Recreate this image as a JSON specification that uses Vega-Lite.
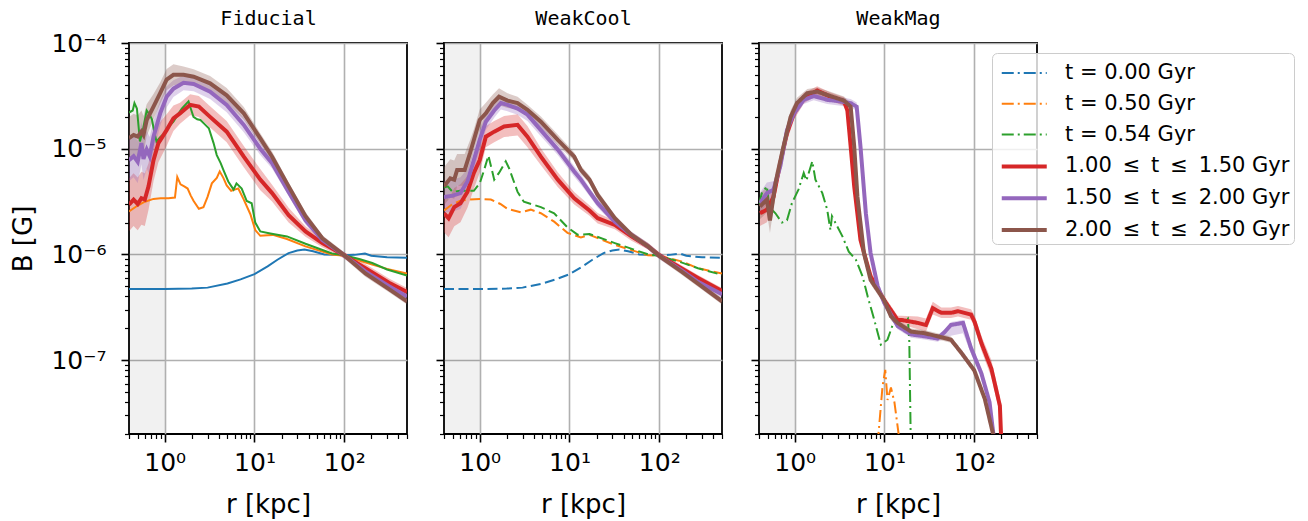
{
"$schema": "https://vega.github.io/schema/vega-lite/v6.json",
"background": "white",
"padding": {"left": 10, "top": 7, "right": 5, "bottom": 4},
"autosize": {"type": "pad"},
"config": {"view": {"stroke": "black", "strokeWidth": 1.8}, "font": "DejaVu Sans"},
"spacing": 37,
"bounds": "flush",
"resolve": {"legend": {"color": "independent", "strokeDash": "independent", "strokeWidth": "independent"}},
"datasets": {
"shade": [{"r0": 0.4, "r1": 1, "b0": 2e-8, "b1": 1e-4}],
"fid": [
{"s":"t = 0.00 Gyr","r":0.4,"B":4.7e-7},{"s":"t = 0.00 Gyr","r":1,"B":4.7e-7},{"s":"t = 0.00 Gyr","r":2,"B":4.75e-7},{"s":"t = 0.00 Gyr","r":3,"B":4.85e-7},{"s":"t = 0.00 Gyr","r":5,"B":5.3e-7},{"s":"t = 0.00 Gyr","r":7,"B":5.8e-7},{"s":"t = 0.00 Gyr","r":10,"B":6.5e-7},{"s":"t = 0.00 Gyr","r":14,"B":7.7e-7},{"s":"t = 0.00 Gyr","r":18,"B":8.9e-7},{"s":"t = 0.00 Gyr","r":24,"B":1.03e-6},{"s":"t = 0.00 Gyr","r":30,"B":1.09e-6},{"s":"t = 0.00 Gyr","r":36,"B":1.11e-6},{"s":"t = 0.00 Gyr","r":45,"B":1.07e-6},{"s":"t = 0.00 Gyr","r":60,"B":1.0e-6},{"s":"t = 0.00 Gyr","r":80,"B":9.9e-7},{"s":"t = 0.00 Gyr","r":100,"B":9.8e-7},{"s":"t = 0.00 Gyr","r":130,"B":9.9e-7},{"s":"t = 0.00 Gyr","r":170,"B":1.02e-6},{"s":"t = 0.00 Gyr","r":200,"B":9.7e-7},{"s":"t = 0.00 Gyr","r":300,"B":9.4e-7},{"s":"t = 0.00 Gyr","r":500,"B":9.3e-7},
{"s":"t = 0.50 Gyr","r":0.4,"B":2.55e-6},{"s":"t = 0.50 Gyr","r":0.5,"B":2.9e-6},{"s":"t = 0.50 Gyr","r":0.6,"B":3.15e-6},{"s":"t = 0.50 Gyr","r":0.75,"B":3.35e-6},{"s":"t = 0.50 Gyr","r":0.9,"B":3.4e-6},{"s":"t = 0.50 Gyr","r":1.1,"B":3.4e-6},{"s":"t = 0.50 Gyr","r":1.3,"B":3.45e-6},{"s":"t = 0.50 Gyr","r":1.38,"B":5.4e-6},{"s":"t = 0.50 Gyr","r":1.5,"B":4.6e-6},{"s":"t = 0.50 Gyr","r":1.65,"B":4.4e-6},{"s":"t = 0.50 Gyr","r":1.8,"B":4.2e-6},{"s":"t = 0.50 Gyr","r":1.95,"B":3.6e-6},{"s":"t = 0.50 Gyr","r":2.1,"B":3.2e-6},{"s":"t = 0.50 Gyr","r":2.4,"B":2.7e-6},{"s":"t = 0.50 Gyr","r":2.7,"B":2.8e-6},{"s":"t = 0.50 Gyr","r":3.0,"B":3.5e-6},{"s":"t = 0.50 Gyr","r":3.35,"B":4.7e-6},{"s":"t = 0.50 Gyr","r":3.8,"B":5.3e-6},{"s":"t = 0.50 Gyr","r":4.1,"B":6.1e-6},{"s":"t = 0.50 Gyr","r":4.5,"B":5.3e-6},{"s":"t = 0.50 Gyr","r":4.9,"B":4.5e-6},{"s":"t = 0.50 Gyr","r":5.5,"B":4.0e-6},{"s":"t = 0.50 Gyr","r":6.0,"B":4.1e-6},{"s":"t = 0.50 Gyr","r":6.6,"B":4.2e-6},{"s":"t = 0.50 Gyr","r":7.6,"B":3.3e-6},{"s":"t = 0.50 Gyr","r":9.0,"B":2.4e-6},{"s":"t = 0.50 Gyr","r":10.2,"B":1.7e-6},{"s":"t = 0.50 Gyr","r":11.6,"B":1.5e-6},{"s":"t = 0.50 Gyr","r":14,"B":1.52e-6},{"s":"t = 0.50 Gyr","r":16,"B":1.53e-6},{"s":"t = 0.50 Gyr","r":23,"B":1.4e-6},{"s":"t = 0.50 Gyr","r":37,"B":1.19e-6},{"s":"t = 0.50 Gyr","r":73,"B":1.0e-6},{"s":"t = 0.50 Gyr","r":100,"B":9.7e-7},{"s":"t = 0.50 Gyr","r":150,"B":8.7e-7},{"s":"t = 0.50 Gyr","r":205,"B":8.0e-7},{"s":"t = 0.50 Gyr","r":300,"B":7.3e-7},{"s":"t = 0.50 Gyr","r":500,"B":6.6e-7},
{"s":"t = 0.54 Gyr","r":0.4,"B":2.2e-5},{"s":"t = 0.54 Gyr","r":0.44,"B":2.3e-5},{"s":"t = 0.54 Gyr","r":0.46,"B":2.7e-5},{"s":"t = 0.54 Gyr","r":0.49,"B":2.4e-5},{"s":"t = 0.54 Gyr","r":0.53,"B":1.17e-5},{"s":"t = 0.54 Gyr","r":0.57,"B":1.5e-5},{"s":"t = 0.54 Gyr","r":0.63,"B":2.3e-5},{"s":"t = 0.54 Gyr","r":0.68,"B":2.1e-5},{"s":"t = 0.54 Gyr","r":0.72,"B":1.9e-5},{"s":"t = 0.54 Gyr","r":0.77,"B":1.4e-5},{"s":"t = 0.54 Gyr","r":0.81,"B":1.17e-5},{"s":"t = 0.54 Gyr","r":0.9,"B":1.3e-5},{"s":"t = 0.54 Gyr","r":1.0,"B":1.4e-5},{"s":"t = 0.54 Gyr","r":1.1,"B":1.6e-5},{"s":"t = 0.54 Gyr","r":1.25,"B":1.8e-5},{"s":"t = 0.54 Gyr","r":1.4,"B":2.1e-5},{"s":"t = 0.54 Gyr","r":1.55,"B":2.4e-5},{"s":"t = 0.54 Gyr","r":1.84,"B":2.8e-5},{"s":"t = 0.54 Gyr","r":1.95,"B":2.4e-5},{"s":"t = 0.54 Gyr","r":2.09,"B":2.0e-5},{"s":"t = 0.54 Gyr","r":2.3,"B":1.9e-5},{"s":"t = 0.54 Gyr","r":2.5,"B":1.87e-5},{"s":"t = 0.54 Gyr","r":2.8,"B":1.7e-5},{"s":"t = 0.54 Gyr","r":3.1,"B":1.56e-5},{"s":"t = 0.54 Gyr","r":3.5,"B":1.13e-5},{"s":"t = 0.54 Gyr","r":3.8,"B":8.7e-6},{"s":"t = 0.54 Gyr","r":4.2,"B":7.3e-6},{"s":"t = 0.54 Gyr","r":4.5,"B":6.3e-6},{"s":"t = 0.54 Gyr","r":5.1,"B":4.9e-6},{"s":"t = 0.54 Gyr","r":5.85,"B":4.1e-6},{"s":"t = 0.54 Gyr","r":6.3,"B":4.7e-6},{"s":"t = 0.54 Gyr","r":7.2,"B":4.2e-6},{"s":"t = 0.54 Gyr","r":8.2,"B":3.2e-6},{"s":"t = 0.54 Gyr","r":9.3,"B":3.05e-6},{"s":"t = 0.54 Gyr","r":10.2,"B":2.0e-6},{"s":"t = 0.54 Gyr","r":11.6,"B":1.65e-6},{"s":"t = 0.54 Gyr","r":15,"B":1.58e-6},{"s":"t = 0.54 Gyr","r":23,"B":1.48e-6},{"s":"t = 0.54 Gyr","r":37,"B":1.26e-6},{"s":"t = 0.54 Gyr","r":73,"B":1.02e-6},{"s":"t = 0.54 Gyr","r":100,"B":9.8e-7},{"s":"t = 0.54 Gyr","r":150,"B":9.0e-7},{"s":"t = 0.54 Gyr","r":205,"B":8.3e-7},{"s":"t = 0.54 Gyr","r":300,"B":7.2e-7},{"s":"t = 0.54 Gyr","r":500,"B":6.3e-7},
{"s":"1.00 ≤ t ≤ 1.50 Gyr","r":0.4,"B":2.95e-6,"lo":1.66e-6,"hi":5.24e-6},{"s":"1.00 ≤ t ≤ 1.50 Gyr","r":0.45,"B":3.3e-6,"lo":1.86e-6,"hi":5.87e-6},{"s":"1.00 ≤ t ≤ 1.50 Gyr","r":0.5,"B":3.0e-6,"lo":1.69e-6,"hi":5.33e-6},{"s":"1.00 ≤ t ≤ 1.50 Gyr","r":0.55,"B":3.4e-6,"lo":1.91e-6,"hi":6.05e-6},{"s":"1.00 ≤ t ≤ 1.50 Gyr","r":0.6,"B":3.3e-6,"lo":1.86e-6,"hi":5.87e-6},{"s":"1.00 ≤ t ≤ 1.50 Gyr","r":0.66,"B":4.4e-6,"lo":2.65e-6,"hi":7.3e-6},{"s":"1.00 ≤ t ≤ 1.50 Gyr","r":0.75,"B":7.8e-6,"lo":4.92e-6,"hi":1.24e-5},{"s":"1.00 ≤ t ≤ 1.50 Gyr","r":0.85,"B":1.13e-5,"lo":7.46e-6,"hi":1.71e-5},{"s":"1.00 ≤ t ≤ 1.50 Gyr","r":1.05,"B":1.5e-5,"lo":1.06e-5,"hi":2.12e-5},{"s":"1.00 ≤ t ≤ 1.50 Gyr","r":1.25,"B":1.94e-5,"lo":1.47e-5,"hi":2.56e-5},{"s":"1.00 ≤ t ≤ 1.50 Gyr","r":1.48,"B":2.16e-5,"lo":1.72e-5,"hi":2.72e-5},{"s":"1.00 ≤ t ≤ 1.50 Gyr","r":1.92,"B":2.6e-5,"lo":2.07e-5,"hi":3.27e-5},{"s":"1.00 ≤ t ≤ 1.50 Gyr","r":2.4,"B":2.5e-5,"lo":1.99e-5,"hi":3.15e-5},{"s":"1.00 ≤ t ≤ 1.50 Gyr","r":3.2,"B":2.0e-5,"lo":1.59e-5,"hi":2.52e-5},{"s":"1.00 ≤ t ≤ 1.50 Gyr","r":4.9,"B":1.45e-5,"lo":1.15e-5,"hi":1.83e-5},{"s":"1.00 ≤ t ≤ 1.50 Gyr","r":7.6,"B":8.4e-6,"lo":6.67e-6,"hi":1.06e-5},{"s":"1.00 ≤ t ≤ 1.50 Gyr","r":11.6,"B":5.1e-6,"lo":4.05e-6,"hi":6.42e-6},{"s":"1.00 ≤ t ≤ 1.50 Gyr","r":15.7,"B":3.8e-6,"lo":3.16e-6,"hi":4.57e-6},{"s":"1.00 ≤ t ≤ 1.50 Gyr","r":24,"B":2.35e-6,"lo":2.0e-6,"hi":2.76e-6},{"s":"1.00 ≤ t ≤ 1.50 Gyr","r":37,"B":1.65e-6,"lo":1.47e-6,"hi":1.85e-6},{"s":"1.00 ≤ t ≤ 1.50 Gyr","r":57,"B":1.28e-6,"lo":1.17e-6,"hi":1.4e-6},{"s":"1.00 ≤ t ≤ 1.50 Gyr","r":100,"B":9.8e-7,"lo":9.15e-7,"hi":1.05e-6},{"s":"1.00 ≤ t ≤ 1.50 Gyr","r":172,"B":7.4e-7,"lo":6.75e-7,"hi":8.1e-7},{"s":"1.00 ≤ t ≤ 1.50 Gyr","r":315,"B":5.4e-7,"lo":4.93e-7,"hi":5.92e-7},{"s":"1.00 ≤ t ≤ 1.50 Gyr","r":500,"B":4.4e-7,"lo":4.0e-7,"hi":4.8e-7},
{"s":"1.50 ≤ t ≤ 2.00 Gyr","r":0.4,"B":7.8e-6,"lo":4.92e-6,"hi":1.24e-5},{"s":"1.50 ≤ t ≤ 2.00 Gyr","r":0.45,"B":8.5e-6,"lo":5.36e-6,"hi":1.35e-5},{"s":"1.50 ≤ t ≤ 2.00 Gyr","r":0.5,"B":7.5e-6,"lo":4.73e-6,"hi":1.19e-5},{"s":"1.50 ≤ t ≤ 2.00 Gyr","r":0.55,"B":1.13e-5,"lo":7.13e-6,"hi":1.79e-5},{"s":"1.50 ≤ t ≤ 2.00 Gyr","r":0.58,"B":8.0e-6,"lo":5.05e-6,"hi":1.27e-5},{"s":"1.50 ≤ t ≤ 2.00 Gyr","r":0.63,"B":9.8e-6,"lo":6.47e-6,"hi":1.48e-5},{"s":"1.50 ≤ t ≤ 2.00 Gyr","r":0.68,"B":8.5e-6,"lo":5.61e-6,"hi":1.29e-5},{"s":"1.50 ≤ t ≤ 2.00 Gyr","r":0.75,"B":1.3e-5,"lo":9.2e-6,"hi":1.84e-5},{"s":"1.50 ≤ t ≤ 2.00 Gyr","r":0.89,"B":2.16e-5,"lo":1.64e-5,"hi":2.85e-5},{"s":"1.50 ≤ t ≤ 2.00 Gyr","r":1.05,"B":3.1e-5,"lo":2.46e-5,"hi":3.9e-5},{"s":"1.50 ≤ t ≤ 2.00 Gyr","r":1.25,"B":3.7e-5,"lo":3.08e-5,"hi":4.45e-5},{"s":"1.50 ≤ t ≤ 2.00 Gyr","r":1.62,"B":4.2e-5,"lo":3.57e-5,"hi":4.94e-5},{"s":"1.50 ≤ t ≤ 2.00 Gyr","r":2.1,"B":4.1e-5,"lo":3.49e-5,"hi":4.82e-5},{"s":"1.50 ≤ t ≤ 2.00 Gyr","r":3.2,"B":3.47e-5,"lo":2.95e-5,"hi":4.08e-5},{"s":"1.50 ≤ t ≤ 2.00 Gyr","r":4.9,"B":2.6e-5,"lo":2.21e-5,"hi":3.06e-5},{"s":"1.50 ≤ t ≤ 2.00 Gyr","r":7.6,"B":1.68e-5,"lo":1.43e-5,"hi":1.97e-5},{"s":"1.50 ≤ t ≤ 2.00 Gyr","r":11.6,"B":1.0e-5,"lo":8.7e-6,"hi":1.15e-5},{"s":"1.50 ≤ t ≤ 2.00 Gyr","r":15.7,"B":7.3e-6,"lo":6.5e-6,"hi":8.2e-6},{"s":"1.50 ≤ t ≤ 2.00 Gyr","r":24,"B":3.9e-6,"lo":3.56e-6,"hi":4.27e-6},{"s":"1.50 ≤ t ≤ 2.00 Gyr","r":37,"B":2.1e-6,"lo":1.92e-6,"hi":2.3e-6},{"s":"1.50 ≤ t ≤ 2.00 Gyr","r":57,"B":1.37e-6,"lo":1.28e-6,"hi":1.47e-6},{"s":"1.50 ≤ t ≤ 2.00 Gyr","r":100,"B":9.8e-7,"lo":9.15e-7,"hi":1.05e-6},{"s":"1.50 ≤ t ≤ 2.00 Gyr","r":172,"B":6.9e-7,"lo":6.44e-7,"hi":7.39e-7},{"s":"1.50 ≤ t ≤ 2.00 Gyr","r":315,"B":5.0e-7,"lo":4.67e-7,"hi":5.36e-7},{"s":"1.50 ≤ t ≤ 2.00 Gyr","r":500,"B":4.0e-7,"lo":3.73e-7,"hi":4.29e-7},
{"s":"2.00 ≤ t ≤ 2.50 Gyr","r":0.4,"B":1.26e-5,"lo":7.95e-6,"hi":2.0e-5},{"s":"2.00 ≤ t ≤ 2.50 Gyr","r":0.45,"B":1.35e-5,"lo":8.52e-6,"hi":2.14e-5},{"s":"2.00 ≤ t ≤ 2.50 Gyr","r":0.5,"B":1.3e-5,"lo":8.2e-6,"hi":2.06e-5},{"s":"2.00 ≤ t ≤ 2.50 Gyr","r":0.55,"B":1.45e-5,"lo":9.15e-6,"hi":2.3e-5},{"s":"2.00 ≤ t ≤ 2.50 Gyr","r":0.58,"B":1.35e-5,"lo":8.92e-6,"hi":2.04e-5},{"s":"2.00 ≤ t ≤ 2.50 Gyr","r":0.63,"B":1.87e-5,"lo":1.32e-5,"hi":2.64e-5},{"s":"2.00 ≤ t ≤ 2.50 Gyr","r":0.75,"B":2.5e-5,"lo":1.9e-5,"hi":3.3e-5},{"s":"2.00 ≤ t ≤ 2.50 Gyr","r":0.89,"B":3.35e-5,"lo":2.66e-5,"hi":4.22e-5},{"s":"2.00 ≤ t ≤ 2.50 Gyr","r":1.05,"B":4.5e-5,"lo":3.57e-5,"hi":5.67e-5},{"s":"2.00 ≤ t ≤ 2.50 Gyr","r":1.25,"B":5.0e-5,"lo":3.97e-5,"hi":6.3e-5},{"s":"2.00 ≤ t ≤ 2.50 Gyr","r":1.62,"B":5.0e-5,"lo":4.16e-5,"hi":6.0e-5},{"s":"2.00 ≤ t ≤ 2.50 Gyr","r":2.1,"B":4.8e-5,"lo":4.08e-5,"hi":5.64e-5},{"s":"2.00 ≤ t ≤ 2.50 Gyr","r":3.2,"B":4.15e-5,"lo":3.53e-5,"hi":4.88e-5},{"s":"2.00 ≤ t ≤ 2.50 Gyr","r":4.9,"B":3.2e-5,"lo":2.72e-5,"hi":3.76e-5},{"s":"2.00 ≤ t ≤ 2.50 Gyr","r":7.6,"B":2.16e-5,"lo":1.88e-5,"hi":2.48e-5},{"s":"2.00 ≤ t ≤ 2.50 Gyr","r":11.6,"B":1.25e-5,"lo":1.11e-5,"hi":1.4e-5},{"s":"2.00 ≤ t ≤ 2.50 Gyr","r":15.7,"B":8.4e-6,"lo":7.5e-6,"hi":9.4e-6},{"s":"2.00 ≤ t ≤ 2.50 Gyr","r":24,"B":4.4e-6,"lo":4.0e-6,"hi":4.8e-6},{"s":"2.00 ≤ t ≤ 2.50 Gyr","r":37,"B":2.3e-6,"lo":2.1e-6,"hi":2.52e-6},{"s":"2.00 ≤ t ≤ 2.50 Gyr","r":57,"B":1.42e-6,"lo":1.33e-6,"hi":1.52e-6},{"s":"2.00 ≤ t ≤ 2.50 Gyr","r":100,"B":9.8e-7,"lo":9.15e-7,"hi":1.05e-6},{"s":"2.00 ≤ t ≤ 2.50 Gyr","r":172,"B":6.6e-7,"lo":6.16e-7,"hi":7.07e-7},{"s":"2.00 ≤ t ≤ 2.50 Gyr","r":315,"B":4.7e-7,"lo":4.39e-7,"hi":5.04e-7},{"s":"2.00 ≤ t ≤ 2.50 Gyr","r":500,"B":3.6e-7,"lo":3.36e-7,"hi":3.86e-7}
],
"wc": [
{"s":"t = 0.00 Gyr","r":0.4,"B":4.7e-7},{"s":"t = 0.00 Gyr","r":1,"B":4.7e-7},{"s":"t = 0.00 Gyr","r":2,"B":4.75e-7},{"s":"t = 0.00 Gyr","r":3,"B":4.85e-7},{"s":"t = 0.00 Gyr","r":5,"B":5.3e-7},{"s":"t = 0.00 Gyr","r":7,"B":5.8e-7},{"s":"t = 0.00 Gyr","r":10,"B":6.5e-7},{"s":"t = 0.00 Gyr","r":14,"B":7.7e-7},{"s":"t = 0.00 Gyr","r":18,"B":8.9e-7},{"s":"t = 0.00 Gyr","r":24,"B":1.03e-6},{"s":"t = 0.00 Gyr","r":30,"B":1.09e-6},{"s":"t = 0.00 Gyr","r":36,"B":1.11e-6},{"s":"t = 0.00 Gyr","r":45,"B":1.07e-6},{"s":"t = 0.00 Gyr","r":60,"B":1.0e-6},{"s":"t = 0.00 Gyr","r":80,"B":9.9e-7},{"s":"t = 0.00 Gyr","r":100,"B":9.8e-7},{"s":"t = 0.00 Gyr","r":130,"B":9.9e-7},{"s":"t = 0.00 Gyr","r":170,"B":1.02e-6},{"s":"t = 0.00 Gyr","r":200,"B":9.7e-7},{"s":"t = 0.00 Gyr","r":300,"B":9.4e-7},{"s":"t = 0.00 Gyr","r":500,"B":9.3e-7},
{"s":"t = 0.50 Gyr","r":0.4,"B":2.6e-6},{"s":"t = 0.50 Gyr","r":0.5,"B":3.0e-6},{"s":"t = 0.50 Gyr","r":0.6,"B":3.2e-6},{"s":"t = 0.50 Gyr","r":0.75,"B":3.3e-6},{"s":"t = 0.50 Gyr","r":1.0,"B":3.35e-6},{"s":"t = 0.50 Gyr","r":1.33,"B":3.3e-6},{"s":"t = 0.50 Gyr","r":1.7,"B":3.0e-6},{"s":"t = 0.50 Gyr","r":2.04,"B":2.7e-6},{"s":"t = 0.50 Gyr","r":2.87,"B":2.5e-6},{"s":"t = 0.50 Gyr","r":3.7,"B":2.65e-6},{"s":"t = 0.50 Gyr","r":4.8,"B":2.45e-6},{"s":"t = 0.50 Gyr","r":6.75,"B":2.04e-6},{"s":"t = 0.50 Gyr","r":9.5,"B":1.6e-6},{"s":"t = 0.50 Gyr","r":13.4,"B":1.45e-6},{"s":"t = 0.50 Gyr","r":16.7,"B":1.53e-6},{"s":"t = 0.50 Gyr","r":32,"B":1.23e-6},{"s":"t = 0.50 Gyr","r":75,"B":9.8e-7},{"s":"t = 0.50 Gyr","r":100,"B":9.7e-7},{"s":"t = 0.50 Gyr","r":176,"B":8.6e-7},{"s":"t = 0.50 Gyr","r":270,"B":7.4e-7},{"s":"t = 0.50 Gyr","r":500,"B":6.6e-7},
{"s":"t = 0.54 Gyr","r":0.4,"B":4.3e-6},{"s":"t = 0.54 Gyr","r":0.44,"B":4.4e-6},{"s":"t = 0.54 Gyr","r":0.5,"B":3.9e-6},{"s":"t = 0.54 Gyr","r":0.6,"B":4.0e-6},{"s":"t = 0.54 Gyr","r":0.73,"B":4.0e-6},{"s":"t = 0.54 Gyr","r":0.86,"B":4.0e-6},{"s":"t = 0.54 Gyr","r":1.0,"B":4.7e-6},{"s":"t = 0.54 Gyr","r":1.12,"B":6.3e-6},{"s":"t = 0.54 Gyr","r":1.25,"B":8.6e-6},{"s":"t = 0.54 Gyr","r":1.45,"B":5.1e-6},{"s":"t = 0.54 Gyr","r":1.64,"B":5.9e-6},{"s":"t = 0.54 Gyr","r":1.95,"B":7.6e-6},{"s":"t = 0.54 Gyr","r":2.13,"B":6.5e-6},{"s":"t = 0.54 Gyr","r":2.64,"B":3.9e-6},{"s":"t = 0.54 Gyr","r":3.1,"B":3.15e-6},{"s":"t = 0.54 Gyr","r":4.8,"B":2.8e-6},{"s":"t = 0.54 Gyr","r":6.75,"B":2.45e-6},{"s":"t = 0.54 Gyr","r":9.5,"B":1.8e-6},{"s":"t = 0.54 Gyr","r":12.4,"B":1.53e-6},{"s":"t = 0.54 Gyr","r":16.7,"B":1.56e-6},{"s":"t = 0.54 Gyr","r":32,"B":1.28e-6},{"s":"t = 0.54 Gyr","r":75,"B":1.0e-6},{"s":"t = 0.54 Gyr","r":100,"B":9.7e-7},{"s":"t = 0.54 Gyr","r":176,"B":8.4e-7},{"s":"t = 0.54 Gyr","r":270,"B":7.4e-7},{"s":"t = 0.54 Gyr","r":500,"B":6.4e-7},
{"s":"1.00 ≤ t ≤ 1.50 Gyr","r":0.4,"B":2.45e-6,"lo":1.62e-6,"hi":3.71e-6},{"s":"1.00 ≤ t ≤ 1.50 Gyr","r":0.45,"B":2.2e-6,"lo":1.45e-6,"hi":3.33e-6},{"s":"1.00 ≤ t ≤ 1.50 Gyr","r":0.52,"B":2.8e-6,"lo":1.85e-6,"hi":4.24e-6},{"s":"1.00 ≤ t ≤ 1.50 Gyr","r":0.61,"B":3.05e-6,"lo":2.01e-6,"hi":4.62e-6},{"s":"1.00 ≤ t ≤ 1.50 Gyr","r":0.73,"B":3.9e-6,"lo":2.76e-6,"hi":5.51e-6},{"s":"1.00 ≤ t ≤ 1.50 Gyr","r":0.86,"B":5.9e-6,"lo":4.18e-6,"hi":8.34e-6},{"s":"1.00 ≤ t ≤ 1.50 Gyr","r":1.0,"B":7.8e-6,"lo":5.92e-6,"hi":1.03e-5},{"s":"1.00 ≤ t ≤ 1.50 Gyr","r":1.17,"B":1.3e-5,"lo":1.03e-5,"hi":1.64e-5},{"s":"1.00 ≤ t ≤ 1.50 Gyr","r":1.45,"B":1.45e-5,"lo":1.15e-5,"hi":1.83e-5},{"s":"1.00 ≤ t ≤ 1.50 Gyr","r":1.87,"B":1.62e-5,"lo":1.29e-5,"hi":2.04e-5},{"s":"1.00 ≤ t ≤ 1.50 Gyr","r":2.64,"B":1.68e-5,"lo":1.33e-5,"hi":2.12e-5},{"s":"1.00 ≤ t ≤ 1.50 Gyr","r":3.4,"B":1.3e-5,"lo":1.03e-5,"hi":1.64e-5},{"s":"1.00 ≤ t ≤ 1.50 Gyr","r":4.8,"B":8.4e-6,"lo":6.99e-6,"hi":1.01e-5},{"s":"1.00 ≤ t ≤ 1.50 Gyr","r":7.4,"B":5.1e-6,"lo":4.34e-6,"hi":5.99e-6},{"s":"1.00 ≤ t ≤ 1.50 Gyr","r":11.3,"B":3.4e-6,"lo":2.96e-6,"hi":3.9e-6},{"s":"1.00 ≤ t ≤ 1.50 Gyr","r":16.7,"B":2.6e-6,"lo":2.32e-6,"hi":2.92e-6},{"s":"1.00 ≤ t ≤ 1.50 Gyr","r":20.6,"B":2.2e-6,"lo":1.96e-6,"hi":2.47e-6},{"s":"1.00 ≤ t ≤ 1.50 Gyr","r":32,"B":1.9e-6,"lo":1.73e-6,"hi":2.08e-6},{"s":"1.00 ≤ t ≤ 1.50 Gyr","r":49,"B":1.48e-6,"lo":1.35e-6,"hi":1.62e-6},{"s":"1.00 ≤ t ≤ 1.50 Gyr","r":75,"B":1.19e-6,"lo":1.11e-6,"hi":1.28e-6},{"s":"1.00 ≤ t ≤ 1.50 Gyr","r":100,"B":9.8e-7,"lo":9.15e-7,"hi":1.05e-6},{"s":"1.00 ≤ t ≤ 1.50 Gyr","r":176,"B":7.4e-7,"lo":6.9e-7,"hi":7.9e-7},{"s":"1.00 ≤ t ≤ 1.50 Gyr","r":270,"B":6.0e-7,"lo":5.6e-7,"hi":6.4e-7},{"s":"1.00 ≤ t ≤ 1.50 Gyr","r":500,"B":4.5e-7,"lo":4.2e-7,"hi":4.8e-7},
{"s":"1.50 ≤ t ≤ 2.00 Gyr","r":0.4,"B":3.5e-6,"lo":2.48e-6,"hi":4.95e-6},{"s":"1.50 ≤ t ≤ 2.00 Gyr","r":0.5,"B":3.6e-6,"lo":2.55e-6,"hi":5.09e-6},{"s":"1.50 ≤ t ≤ 2.00 Gyr","r":0.61,"B":3.8e-6,"lo":2.69e-6,"hi":5.37e-6},{"s":"1.50 ≤ t ≤ 2.00 Gyr","r":0.73,"B":4.9e-6,"lo":3.72e-6,"hi":6.46e-6},{"s":"1.50 ≤ t ≤ 2.00 Gyr","r":0.86,"B":7.8e-6,"lo":6.2e-6,"hi":9.8e-6},{"s":"1.50 ≤ t ≤ 2.00 Gyr","r":1.0,"B":1.21e-5,"lo":9.6e-6,"hi":1.52e-5},{"s":"1.50 ≤ t ≤ 2.00 Gyr","r":1.17,"B":1.8e-5,"lo":1.5e-5,"hi":2.16e-5},{"s":"1.50 ≤ t ≤ 2.00 Gyr","r":1.45,"B":2.3e-5,"lo":1.96e-5,"hi":2.7e-5},{"s":"1.50 ≤ t ≤ 2.00 Gyr","r":1.72,"B":2.7e-5,"lo":2.35e-5,"hi":3.1e-5},{"s":"1.50 ≤ t ≤ 2.00 Gyr","r":2.04,"B":2.6e-5,"lo":2.26e-5,"hi":2.98e-5},{"s":"1.50 ≤ t ≤ 2.00 Gyr","r":2.64,"B":2.4e-5,"lo":2.09e-5,"hi":2.76e-5},{"s":"1.50 ≤ t ≤ 2.00 Gyr","r":3.4,"B":2.1e-5,"lo":1.83e-5,"hi":2.41e-5},{"s":"1.50 ≤ t ≤ 2.00 Gyr","r":4.8,"B":1.5e-5,"lo":1.31e-5,"hi":1.72e-5},{"s":"1.50 ≤ t ≤ 2.00 Gyr","r":7.4,"B":9.8e-6,"lo":8.73e-6,"hi":1.1e-5},{"s":"1.50 ≤ t ≤ 2.00 Gyr","r":11.3,"B":6.1e-6,"lo":5.44e-6,"hi":6.84e-6},{"s":"1.50 ≤ t ≤ 2.00 Gyr","r":13.4,"B":5.1e-6,"lo":4.55e-6,"hi":5.72e-6},{"s":"1.50 ≤ t ≤ 2.00 Gyr","r":16.7,"B":3.9e-6,"lo":3.56e-6,"hi":4.27e-6},{"s":"1.50 ≤ t ≤ 2.00 Gyr","r":20.6,"B":3.05e-6,"lo":2.78e-6,"hi":3.34e-6},{"s":"1.50 ≤ t ≤ 2.00 Gyr","r":32,"B":2.04e-6,"lo":1.9e-6,"hi":2.19e-6},{"s":"1.50 ≤ t ≤ 2.00 Gyr","r":49,"B":1.53e-6,"lo":1.43e-6,"hi":1.64e-6},{"s":"1.50 ≤ t ≤ 2.00 Gyr","r":75,"B":1.19e-6,"lo":1.11e-6,"hi":1.28e-6},{"s":"1.50 ≤ t ≤ 2.00 Gyr","r":100,"B":9.7e-7,"lo":9.05e-7,"hi":1.04e-6},{"s":"1.50 ≤ t ≤ 2.00 Gyr","r":176,"B":7.1e-7,"lo":6.63e-7,"hi":7.61e-7},{"s":"1.50 ≤ t ≤ 2.00 Gyr","r":270,"B":5.5e-7,"lo":5.13e-7,"hi":5.89e-7},{"s":"1.50 ≤ t ≤ 2.00 Gyr","r":500,"B":4.2e-7,"lo":3.92e-7,"hi":4.5e-7},
{"s":"2.00 ≤ t ≤ 2.50 Gyr","r":0.4,"B":4.4e-6,"lo":2.91e-6,"hi":6.66e-6},{"s":"2.00 ≤ t ≤ 2.50 Gyr","r":0.47,"B":5.25e-6,"lo":3.47e-6,"hi":7.95e-6},{"s":"2.00 ≤ t ≤ 2.50 Gyr","r":0.52,"B":5.1e-6,"lo":3.37e-6,"hi":7.72e-6},{"s":"2.00 ≤ t ≤ 2.50 Gyr","r":0.56,"B":6.3e-6,"lo":4.46e-6,"hi":8.9e-6},{"s":"2.00 ≤ t ≤ 2.50 Gyr","r":0.68,"B":6.3e-6,"lo":4.46e-6,"hi":8.9e-6},{"s":"2.00 ≤ t ≤ 2.50 Gyr","r":0.78,"B":9.1e-6,"lo":6.9e-6,"hi":1.2e-5},{"s":"2.00 ≤ t ≤ 2.50 Gyr","r":0.86,"B":1.21e-5,"lo":9.6e-6,"hi":1.52e-5},{"s":"2.00 ≤ t ≤ 2.50 Gyr","r":1.0,"B":1.87e-5,"lo":1.49e-5,"hi":2.35e-5},{"s":"2.00 ≤ t ≤ 2.50 Gyr","r":1.17,"B":2.16e-5,"lo":1.72e-5,"hi":2.72e-5},{"s":"2.00 ≤ t ≤ 2.50 Gyr","r":1.4,"B":2.7e-5,"lo":2.25e-5,"hi":3.25e-5},{"s":"2.00 ≤ t ≤ 2.50 Gyr","r":1.64,"B":3.1e-5,"lo":2.58e-5,"hi":3.73e-5},{"s":"2.00 ≤ t ≤ 2.50 Gyr","r":2.04,"B":2.85e-5,"lo":2.43e-5,"hi":3.35e-5},{"s":"2.00 ≤ t ≤ 2.50 Gyr","r":2.64,"B":2.7e-5,"lo":2.35e-5,"hi":3.1e-5},{"s":"2.00 ≤ t ≤ 2.50 Gyr","r":3.4,"B":2.33e-5,"lo":2.08e-5,"hi":2.61e-5},{"s":"2.00 ≤ t ≤ 2.50 Gyr","r":4.8,"B":1.8e-5,"lo":1.6e-5,"hi":2.02e-5},{"s":"2.00 ≤ t ≤ 2.50 Gyr","r":7.4,"B":1.21e-5,"lo":1.08e-5,"hi":1.36e-5},{"s":"2.00 ≤ t ≤ 2.50 Gyr","r":11.3,"B":8.4e-6,"lo":7.66e-6,"hi":9.2e-6},{"s":"2.00 ≤ t ≤ 2.50 Gyr","r":13.4,"B":6.3e-6,"lo":5.75e-6,"hi":6.9e-6},{"s":"2.00 ≤ t ≤ 2.50 Gyr","r":16.7,"B":5.1e-6,"lo":4.65e-6,"hi":5.59e-6},{"s":"2.00 ≤ t ≤ 2.50 Gyr","r":20.6,"B":3.65e-6,"lo":3.33e-6,"hi":4.0e-6},{"s":"2.00 ≤ t ≤ 2.50 Gyr","r":32,"B":2.2e-6,"lo":2.05e-6,"hi":2.36e-6},{"s":"2.00 ≤ t ≤ 2.50 Gyr","r":49,"B":1.53e-6,"lo":1.43e-6,"hi":1.64e-6},{"s":"2.00 ≤ t ≤ 2.50 Gyr","r":75,"B":1.19e-6,"lo":1.11e-6,"hi":1.28e-6},{"s":"2.00 ≤ t ≤ 2.50 Gyr","r":100,"B":9.7e-7,"lo":9.05e-7,"hi":1.04e-6},{"s":"2.00 ≤ t ≤ 2.50 Gyr","r":176,"B":6.9e-7,"lo":6.44e-7,"hi":7.39e-7},{"s":"2.00 ≤ t ≤ 2.50 Gyr","r":270,"B":5.3e-7,"lo":4.95e-7,"hi":5.68e-7},{"s":"2.00 ≤ t ≤ 2.50 Gyr","r":500,"B":3.6e-7,"lo":3.36e-7,"hi":3.86e-7}
],
"wm": [
{"s":"t = 0.50 Gyr","r":8.0,"B":1e-8},{"s":"t = 0.50 Gyr","r":9.5,"B":5.6e-8},{"s":"t = 0.50 Gyr","r":10.2,"B":8.1e-8},{"s":"t = 0.50 Gyr","r":10.8,"B":4.2e-8},{"s":"t = 0.50 Gyr","r":11.8,"B":5.5e-8},{"s":"t = 0.50 Gyr","r":12.9,"B":4.0e-8},{"s":"t = 0.50 Gyr","r":16,"B":1e-8},
{"s":"t = 0.54 Gyr","r":0.4,"B":3.0e-6},{"s":"t = 0.54 Gyr","r":0.43,"B":3.8e-6},{"s":"t = 0.54 Gyr","r":0.49,"B":4.4e-6},{"s":"t = 0.54 Gyr","r":0.52,"B":2.8e-6},{"s":"t = 0.54 Gyr","r":0.61,"B":2.45e-6},{"s":"t = 0.54 Gyr","r":0.72,"B":2.0e-6},{"s":"t = 0.54 Gyr","r":0.82,"B":2.1e-6},{"s":"t = 0.54 Gyr","r":0.93,"B":3.05e-6},{"s":"t = 0.54 Gyr","r":1.1,"B":4.1e-6},{"s":"t = 0.54 Gyr","r":1.26,"B":5.9e-6},{"s":"t = 0.54 Gyr","r":1.35,"B":5.0e-6},{"s":"t = 0.54 Gyr","r":1.57,"B":7.6e-6},{"s":"t = 0.54 Gyr","r":1.7,"B":5.1e-6},{"s":"t = 0.54 Gyr","r":2.03,"B":3.8e-6},{"s":"t = 0.54 Gyr","r":2.3,"B":2.65e-6},{"s":"t = 0.54 Gyr","r":2.5,"B":1.7e-6},{"s":"t = 0.54 Gyr","r":2.6,"B":2.3e-6},{"s":"t = 0.54 Gyr","r":3.4,"B":1.48e-6},{"s":"t = 0.54 Gyr","r":4.0,"B":1.06e-6},{"s":"t = 0.54 Gyr","r":4.8,"B":8.9e-7},{"s":"t = 0.54 Gyr","r":5.7,"B":6.2e-7},{"s":"t = 0.54 Gyr","r":6.5,"B":4.0e-7},{"s":"t = 0.54 Gyr","r":7.7,"B":2.4e-7},{"s":"t = 0.54 Gyr","r":9.1,"B":1.4e-7},{"s":"t = 0.54 Gyr","r":10.8,"B":1.56e-7},{"s":"t = 0.54 Gyr","r":12.9,"B":2.4e-7},{"s":"t = 0.54 Gyr","r":15.9,"B":2.4e-7},{"s":"t = 0.54 Gyr","r":18.2,"B":2.5e-7},{"s":"t = 0.54 Gyr","r":18.9,"B":1.5e-7},{"s":"t = 0.54 Gyr","r":19.8,"B":1e-8},
{"s":"1.00 ≤ t ≤ 1.50 Gyr","r":0.41,"B":2.45e-6,"lo":1.86e-6,"hi":3.23e-6},{"s":"1.00 ≤ t ≤ 1.50 Gyr","r":0.49,"B":2.65e-6,"lo":2.01e-6,"hi":3.49e-6},{"s":"1.00 ≤ t ≤ 1.50 Gyr","r":0.58,"B":3.5e-6,"lo":2.78e-6,"hi":4.41e-6},{"s":"1.00 ≤ t ≤ 1.50 Gyr","r":0.69,"B":7.3e-6,"lo":6.07e-6,"hi":8.77e-6},{"s":"1.00 ≤ t ≤ 1.50 Gyr","r":0.82,"B":1.4e-5,"lo":1.19e-5,"hi":1.65e-5},{"s":"1.00 ≤ t ≤ 1.50 Gyr","r":0.98,"B":2.16e-5,"lo":1.88e-5,"hi":2.48e-5},{"s":"1.00 ≤ t ≤ 1.50 Gyr","r":1.26,"B":3.0e-5,"lo":2.67e-5,"hi":3.37e-5},{"s":"1.00 ≤ t ≤ 1.50 Gyr","r":1.78,"B":3.55e-5,"lo":3.24e-5,"hi":3.89e-5},{"s":"1.00 ≤ t ≤ 1.50 Gyr","r":2.5,"B":3.1e-5,"lo":2.83e-5,"hi":3.4e-5},{"s":"1.00 ≤ t ≤ 1.50 Gyr","r":3.54,"B":2.8e-5,"lo":2.55e-5,"hi":3.07e-5},{"s":"1.00 ≤ t ≤ 1.50 Gyr","r":3.86,"B":2.3e-5,"lo":2.05e-5,"hi":2.58e-5},{"s":"1.00 ≤ t ≤ 1.50 Gyr","r":4.2,"B":1.05e-5,"lo":9.36e-6,"hi":1.18e-5},{"s":"1.00 ≤ t ≤ 1.50 Gyr","r":4.6,"B":4.4e-6,"lo":3.92e-6,"hi":4.94e-6},{"s":"1.00 ≤ t ≤ 1.50 Gyr","r":5.4,"B":1.37e-6,"lo":1.22e-6,"hi":1.54e-6},{"s":"1.00 ≤ t ≤ 1.50 Gyr","r":7.0,"B":6.2e-7,"lo":5.53e-7,"hi":6.96e-7},{"s":"1.00 ≤ t ≤ 1.50 Gyr","r":9.9,"B":3.7e-7,"lo":3.38e-7,"hi":4.06e-7},{"s":"1.00 ≤ t ≤ 1.50 Gyr","r":14,"B":2.4e-7,"lo":2.19e-7,"hi":2.63e-7},{"s":"1.00 ≤ t ≤ 1.50 Gyr","r":15.3,"B":2.4e-7,"lo":2.19e-7,"hi":2.63e-7},{"s":"1.00 ≤ t ≤ 1.50 Gyr","r":23.5,"B":2.25e-7,"lo":1.96e-7,"hi":2.58e-7},{"s":"1.00 ≤ t ≤ 1.50 Gyr","r":29,"B":2.15e-7,"lo":1.87e-7,"hi":2.47e-7},{"s":"1.00 ≤ t ≤ 1.50 Gyr","r":34.5,"B":3.1e-7,"lo":2.7e-7,"hi":3.56e-7},{"s":"1.00 ≤ t ≤ 1.50 Gyr","r":43,"B":2.8e-7,"lo":2.5e-7,"hi":3.14e-7},{"s":"1.00 ≤ t ≤ 1.50 Gyr","r":55,"B":2.8e-7,"lo":2.5e-7,"hi":3.14e-7},{"s":"1.00 ≤ t ≤ 1.50 Gyr","r":66,"B":2.9e-7,"lo":2.58e-7,"hi":3.25e-7},{"s":"1.00 ≤ t ≤ 1.50 Gyr","r":92,"B":2.7e-7,"lo":2.41e-7,"hi":3.03e-7},{"s":"1.00 ≤ t ≤ 1.50 Gyr","r":101,"B":2.3e-7,"lo":2.0e-7,"hi":2.64e-7},{"s":"1.00 ≤ t ≤ 1.50 Gyr","r":120,"B":1.45e-7,"lo":1.23e-7,"hi":1.7e-7},{"s":"1.00 ≤ t ≤ 1.50 Gyr","r":155,"B":8.3e-8,"lo":6.9e-8,"hi":1.0e-7},{"s":"1.00 ≤ t ≤ 1.50 Gyr","r":193,"B":3.7e-8,"lo":3.08e-8,"hi":4.45e-8},{"s":"1.00 ≤ t ≤ 1.50 Gyr","r":205,"B":1e-8,"lo":8.3e-9,"hi":1.2e-8},
{"s":"1.50 ≤ t ≤ 2.00 Gyr","r":0.41,"B":3.05e-6,"lo":2.42e-6,"hi":3.84e-6},{"s":"1.50 ≤ t ≤ 2.00 Gyr","r":0.49,"B":3.8e-6,"lo":3.02e-6,"hi":4.78e-6},{"s":"1.50 ≤ t ≤ 2.00 Gyr","r":0.58,"B":4.1e-6,"lo":3.41e-6,"hi":4.93e-6},{"s":"1.50 ≤ t ≤ 2.00 Gyr","r":0.69,"B":6.8e-6,"lo":5.92e-6,"hi":7.81e-6},{"s":"1.50 ≤ t ≤ 2.00 Gyr","r":0.82,"B":1.5e-5,"lo":1.34e-5,"hi":1.68e-5},{"s":"1.50 ≤ t ≤ 2.00 Gyr","r":0.98,"B":2.16e-5,"lo":1.93e-5,"hi":2.42e-5},{"s":"1.50 ≤ t ≤ 2.00 Gyr","r":1.26,"B":2.9e-5,"lo":2.65e-5,"hi":3.18e-5},{"s":"1.50 ≤ t ≤ 2.00 Gyr","r":1.63,"B":3.15e-5,"lo":2.87e-5,"hi":3.45e-5},{"s":"1.50 ≤ t ≤ 2.00 Gyr","r":2.3,"B":2.9e-5,"lo":2.65e-5,"hi":3.18e-5},{"s":"1.50 ≤ t ≤ 2.00 Gyr","r":3.25,"B":2.8e-5,"lo":2.55e-5,"hi":3.07e-5},{"s":"1.50 ≤ t ≤ 2.00 Gyr","r":4.2,"B":2.7e-5,"lo":2.46e-5,"hi":2.96e-5},{"s":"1.50 ≤ t ≤ 2.00 Gyr","r":4.9,"B":2.5e-5,"lo":2.28e-5,"hi":2.74e-5},{"s":"1.50 ≤ t ≤ 2.00 Gyr","r":5.4,"B":1.05e-5,"lo":9.36e-6,"hi":1.18e-5},{"s":"1.50 ≤ t ≤ 2.00 Gyr","r":6.2,"B":2.45e-6,"lo":2.18e-6,"hi":2.75e-6},{"s":"1.50 ≤ t ≤ 2.00 Gyr","r":7.0,"B":1.03e-6,"lo":9.18e-7,"hi":1.16e-6},{"s":"1.50 ≤ t ≤ 2.00 Gyr","r":8.4,"B":5.0e-7,"lo":4.56e-7,"hi":5.48e-7},{"s":"1.50 ≤ t ≤ 2.00 Gyr","r":9.9,"B":3.5e-7,"lo":3.19e-7,"hi":3.84e-7},{"s":"1.50 ≤ t ≤ 2.00 Gyr","r":14,"B":2.1e-7,"lo":1.96e-7,"hi":2.25e-7},{"s":"1.50 ≤ t ≤ 2.00 Gyr","r":19.8,"B":1.75e-7,"lo":1.63e-7,"hi":1.88e-7},{"s":"1.50 ≤ t ≤ 2.00 Gyr","r":27.8,"B":1.68e-7,"lo":1.57e-7,"hi":1.8e-7},{"s":"1.50 ≤ t ≤ 2.00 Gyr","r":39,"B":1.6e-7,"lo":1.49e-7,"hi":1.71e-7},{"s":"1.50 ≤ t ≤ 2.00 Gyr","r":47,"B":1.85e-7,"lo":1.6e-7,"hi":1.98e-7},{"s":"1.50 ≤ t ≤ 2.00 Gyr","r":55,"B":2.15e-7,"lo":1.7e-7,"hi":2.3e-7},{"s":"1.50 ≤ t ≤ 2.00 Gyr","r":75,"B":2.25e-7,"lo":1.8e-7,"hi":2.4e-7},{"s":"1.50 ≤ t ≤ 2.00 Gyr","r":92,"B":1.3e-7,"lo":1.15e-7,"hi":1.45e-7},{"s":"1.50 ≤ t ≤ 2.00 Gyr","r":120,"B":7.5e-8,"lo":6.8e-8,"hi":8.3e-8},{"s":"1.50 ≤ t ≤ 2.00 Gyr","r":148,"B":4.0e-8,"lo":3.6e-8,"hi":4.4e-8},{"s":"1.50 ≤ t ≤ 2.00 Gyr","r":170,"B":1.5e-8,"lo":1.35e-8,"hi":1.65e-8},
{"s":"2.00 ≤ t ≤ 2.50 Gyr","r":0.41,"B":2.84e-6,"lo":2.15e-6,"hi":3.74e-6},{"s":"2.00 ≤ t ≤ 2.50 Gyr","r":0.49,"B":3.3e-6,"lo":2.5e-6,"hi":4.35e-6},{"s":"2.00 ≤ t ≤ 2.50 Gyr","r":0.53,"B":2.1e-6,"lo":1.59e-6,"hi":2.77e-6},{"s":"2.00 ≤ t ≤ 2.50 Gyr","r":0.61,"B":4.7e-6,"lo":3.73e-6,"hi":5.92e-6},{"s":"2.00 ≤ t ≤ 2.50 Gyr","r":0.75,"B":1.05e-5,"lo":8.74e-6,"hi":1.26e-5},{"s":"2.00 ≤ t ≤ 2.50 Gyr","r":0.9,"B":2.0e-5,"lo":1.74e-5,"hi":2.3e-5},{"s":"2.00 ≤ t ≤ 2.50 Gyr","r":1.06,"B":2.7e-5,"lo":2.41e-5,"hi":3.03e-5},{"s":"2.00 ≤ t ≤ 2.50 Gyr","r":1.38,"B":3.35e-5,"lo":3.06e-5,"hi":3.67e-5},{"s":"2.00 ≤ t ≤ 2.50 Gyr","r":1.78,"B":3.47e-5,"lo":3.17e-5,"hi":3.8e-5},{"s":"2.00 ≤ t ≤ 2.50 Gyr","r":2.5,"B":3.15e-5,"lo":2.87e-5,"hi":3.45e-5},{"s":"2.00 ≤ t ≤ 2.50 Gyr","r":3.54,"B":2.85e-5,"lo":2.6e-5,"hi":3.12e-5},{"s":"2.00 ≤ t ≤ 2.50 Gyr","r":4.2,"B":2.5e-5,"lo":2.28e-5,"hi":2.74e-5},{"s":"2.00 ≤ t ≤ 2.50 Gyr","r":4.6,"B":1.05e-5,"lo":9.36e-6,"hi":1.18e-5},{"s":"2.00 ≤ t ≤ 2.50 Gyr","r":5.0,"B":3.5e-6,"lo":3.12e-6,"hi":3.93e-6},{"s":"2.00 ≤ t ≤ 2.50 Gyr","r":5.9,"B":1.03e-6,"lo":9.18e-7,"hi":1.16e-6},{"s":"2.00 ≤ t ≤ 2.50 Gyr","r":7.0,"B":5.75e-7,"lo":5.25e-7,"hi":6.3e-7},{"s":"2.00 ≤ t ≤ 2.50 Gyr","r":9.9,"B":3.7e-7,"lo":3.38e-7,"hi":4.06e-7},{"s":"2.00 ≤ t ≤ 2.50 Gyr","r":11.8,"B":2.6e-7,"lo":2.37e-7,"hi":2.85e-7},{"s":"2.00 ≤ t ≤ 2.50 Gyr","r":14,"B":2.25e-7,"lo":2.1e-7,"hi":2.41e-7},{"s":"2.00 ≤ t ≤ 2.50 Gyr","r":19.8,"B":1.86e-7,"lo":1.74e-7,"hi":1.99e-7},{"s":"2.00 ≤ t ≤ 2.50 Gyr","r":27.8,"B":1.8e-7,"lo":1.68e-7,"hi":1.93e-7},{"s":"2.00 ≤ t ≤ 2.50 Gyr","r":39,"B":1.68e-7,"lo":1.57e-7,"hi":1.8e-7},{"s":"2.00 ≤ t ≤ 2.50 Gyr","r":55,"B":1.56e-7,"lo":1.46e-7,"hi":1.67e-7},{"s":"2.00 ≤ t ≤ 2.50 Gyr","r":72,"B":1.17e-7,"lo":1.09e-7,"hi":1.25e-7},{"s":"2.00 ≤ t ≤ 2.50 Gyr","r":100,"B":8.0e-8,"lo":7.47e-8,"hi":8.57e-8},{"s":"2.00 ≤ t ≤ 2.50 Gyr","r":131,"B":4.3e-8,"lo":4.0e-8,"hi":4.6e-8},{"s":"2.00 ≤ t ≤ 2.50 Gyr","r":162,"B":2.0e-8,"lo":1.87e-8,"hi":2.14e-8},{"s":"2.00 ≤ t ≤ 2.50 Gyr","r":175,"B":1.2e-8,"lo":1.12e-8,"hi":1.29e-8}
]
},
"hconcat": [
{
"width": 278, "height": 391,
"resolve": {"axis": {"x": "independent"}},
"layer": [
{"data": {"name": "shade"}, "mark": {"type": "rect", "color": "black", "opacity": 0.055},
 "encoding": {
  "x": {"field": "r0", "type": "quantitative", "title": "r [kpc]", "scale": {"type": "log", "domain": [0.4, 500], "nice": false},
   "axis": {"orient": "bottom", "values": [0.4,0.5,0.6,0.7,0.8,0.9,1,2,3,4,5,6,7,8,9,10,20,30,40,50,60,70,80,90,100,200,300,400,500],
    "labelExpr": "abs(log(datum.value)/LN10-round(log(datum.value)/LN10))<0.001 ? '10'+(datum.value<0.9?'⁻':'')+substring('⁰¹²³⁴⁵⁶⁷⁸⁹',abs(round(log(datum.value)/LN10)),abs(round(log(datum.value)/LN10))+1) : ''",
    "labelFontSize": 25, "labelFont": "DejaVu Sans", "labelColor": "black", "labelOverlap": false, "labelFlush": false, "labelPadding": 8,
    "tickColor": "black", "tickSize": {"condition": {"test": "abs(log(datum.value)/LN10-round(log(datum.value)/LN10))<0.001", "value": 8}, "value": 4.5},
    "tickWidth": {"condition": {"test": "abs(log(datum.value)/LN10-round(log(datum.value)/LN10))<0.001", "value": 1.6}, "value": 1.2},
    "domain": false, "grid": true, "gridColor": "#b0b0b0", "gridWidth": 1.6,
    "gridOpacity": {"condition": {"test": "abs(log(datum.value)/LN10-round(log(datum.value)/LN10))<0.001", "value": 1}, "value": 0},
    "titleFontSize": 26, "titleFontWeight": "normal", "titleColor": "black", "titleFont": "DejaVu Sans", "titlePadding": 16}},
  "x2": {"field": "r1"},
  "y": {"field": "b0", "type": "quantitative", "title": "B [G]", "scale": {"type": "log", "domain": [2e-8, 1e-4], "nice": false},
   "axis": {"values": [2e-8,3e-8,4e-8,5e-8,6e-8,7e-8,8e-8,9e-8,1e-7,2e-7,3e-7,4e-7,5e-7,6e-7,7e-7,8e-7,9e-7,1e-6,2e-6,3e-6,4e-6,5e-6,6e-6,7e-6,8e-6,9e-6,1e-5,2e-5,3e-5,4e-5,5e-5,6e-5,7e-5,8e-5,9e-5,1e-4],
    "labelExpr": "abs(log(datum.value)/LN10-round(log(datum.value)/LN10))<0.001 ? '10'+(datum.value<0.9?'⁻':'')+substring('⁰¹²³⁴⁵⁶⁷⁸⁹',abs(round(log(datum.value)/LN10)),abs(round(log(datum.value)/LN10))+1) : ''",
    "labelFontSize": 25, "labelFont": "DejaVu Sans", "labelColor": "black", "labelOverlap": false, "labelFlush": false, "labelPadding": 15,
    "tickColor": "black", "tickSize": {"condition": {"test": "abs(log(datum.value)/LN10-round(log(datum.value)/LN10))<0.001", "value": 8}, "value": 4.5},
    "tickWidth": {"condition": {"test": "abs(log(datum.value)/LN10-round(log(datum.value)/LN10))<0.001", "value": 1.6}, "value": 1.2},
    "domain": false, "grid": true, "gridColor": "#b0b0b0", "gridWidth": 1.6,
    "gridOpacity": {"condition": {"test": "abs(log(datum.value)/LN10-round(log(datum.value)/LN10))<0.001", "value": 1}, "value": 0},
    "titleFontSize": 26, "titleFontWeight": "normal", "titleColor": "black", "titleFont": "DejaVu Sans", "titlePadding": 14}},
  "y2": {"field": "b1"}}},
{"data": {"name": "fid"}, "transform": [{"filter": {"field": "s", "oneOf": ["1.00 ≤ t ≤ 1.50 Gyr","1.50 ≤ t ≤ 2.00 Gyr","2.00 ≤ t ≤ 2.50 Gyr"]}}],
 "mark": {"type": "area", "opacity": 0.3, "clip": true},
 "encoding": {"x": {"field": "r", "type": "quantitative", "title": "Fiducial", "axis": {"orient": "top", "labels": false, "ticks": false, "domain": false, "grid": false, "titleFont": "DejaVu Sans Mono", "titleFontSize": 20, "titleFontWeight": "normal", "titleColor": "black", "titlePadding": 19, "titleBaseline": "alphabetic"}},
  "y": {"field": "lo", "type": "quantitative", "title": "B [G]"}, "y2": {"field": "hi"},
  "fill": {"field": "s", "type": "nominal", "legend": null, "scale": {"domain": ["t = 0.00 Gyr","t = 0.50 Gyr","t = 0.54 Gyr","1.00 ≤ t ≤ 1.50 Gyr","1.50 ≤ t ≤ 2.00 Gyr","2.00 ≤ t ≤ 2.50 Gyr"], "range": ["#1f77b4","#ff7f0e","#2ca02c","#d62728","#9467bd","#8c564b"]}}}},
{"data": {"name": "fid"}, "transform": [{"filter": {"field": "s", "oneOf": ["t = 0.00 Gyr","t = 0.50 Gyr","t = 0.54 Gyr"]}}],
 "mark": {"type": "line", "strokeWidth": 2, "clip": true},
 "encoding": {"x": {"field": "r", "type": "quantitative", "axis": null}, "y": {"field": "B", "type": "quantitative", "title": "B [G]"},
  "color": {"field": "s", "type": "nominal", "legend": null, "scale": {"domain": ["t = 0.00 Gyr","t = 0.50 Gyr","t = 0.54 Gyr","1.00 ≤ t ≤ 1.50 Gyr","1.50 ≤ t ≤ 2.00 Gyr","2.00 ≤ t ≤ 2.50 Gyr"], "range": ["#1f77b4","#ff7f0e","#2ca02c","#d62728","#9467bd","#8c564b"]}}}},
{"data": {"name": "fid"}, "transform": [{"filter": {"field": "s", "oneOf": ["1.00 ≤ t ≤ 1.50 Gyr","1.50 ≤ t ≤ 2.00 Gyr","2.00 ≤ t ≤ 2.50 Gyr"]}}],
 "mark": {"type": "line", "strokeWidth": 4, "clip": true},
 "encoding": {"x": {"field": "r", "type": "quantitative", "axis": null}, "y": {"field": "B", "type": "quantitative", "title": "B [G]"},
  "color": {"field": "s", "type": "nominal", "legend": null}}}
]
},
{
"width": 278, "height": 391,
"resolve": {"axis": {"x": "independent"}},
"layer": [
{"data": {"name": "shade"}, "mark": {"type": "rect", "color": "black", "opacity": 0.055},
 "encoding": {
  "x": {"field": "r0", "type": "quantitative", "title": "r [kpc]", "scale": {"type": "log", "domain": [0.4, 500], "nice": false},
   "axis": {"orient": "bottom", "values": [0.4,0.5,0.6,0.7,0.8,0.9,1,2,3,4,5,6,7,8,9,10,20,30,40,50,60,70,80,90,100,200,300,400,500],
    "labelExpr": "abs(log(datum.value)/LN10-round(log(datum.value)/LN10))<0.001 ? '10'+(datum.value<0.9?'⁻':'')+substring('⁰¹²³⁴⁵⁶⁷⁸⁹',abs(round(log(datum.value)/LN10)),abs(round(log(datum.value)/LN10))+1) : ''",
    "labelFontSize": 25, "labelFont": "DejaVu Sans", "labelColor": "black", "labelOverlap": false, "labelFlush": false, "labelPadding": 8,
    "tickColor": "black", "tickSize": {"condition": {"test": "abs(log(datum.value)/LN10-round(log(datum.value)/LN10))<0.001", "value": 8}, "value": 4.5},
    "tickWidth": {"condition": {"test": "abs(log(datum.value)/LN10-round(log(datum.value)/LN10))<0.001", "value": 1.6}, "value": 1.2},
    "domain": false, "grid": true, "gridColor": "#b0b0b0", "gridWidth": 1.6,
    "gridOpacity": {"condition": {"test": "abs(log(datum.value)/LN10-round(log(datum.value)/LN10))<0.001", "value": 1}, "value": 0},
    "titleFontSize": 26, "titleFontWeight": "normal", "titleColor": "black", "titleFont": "DejaVu Sans", "titlePadding": 16}},
  "x2": {"field": "r1"},
  "y": {"field": "b0", "type": "quantitative", "title": null, "scale": {"type": "log", "domain": [2e-8, 1e-4], "nice": false},
   "axis": {"values": [2e-8,3e-8,4e-8,5e-8,6e-8,7e-8,8e-8,9e-8,1e-7,2e-7,3e-7,4e-7,5e-7,6e-7,7e-7,8e-7,9e-7,1e-6,2e-6,3e-6,4e-6,5e-6,6e-6,7e-6,8e-6,9e-6,1e-5,2e-5,3e-5,4e-5,5e-5,6e-5,7e-5,8e-5,9e-5,1e-4],
    "labels": false,
    "tickColor": "black", "tickSize": {"condition": {"test": "abs(log(datum.value)/LN10-round(log(datum.value)/LN10))<0.001", "value": 8}, "value": 4.5},
    "tickWidth": {"condition": {"test": "abs(log(datum.value)/LN10-round(log(datum.value)/LN10))<0.001", "value": 1.6}, "value": 1.2},
    "domain": false, "grid": true, "gridColor": "#b0b0b0", "gridWidth": 1.6,
    "gridOpacity": {"condition": {"test": "abs(log(datum.value)/LN10-round(log(datum.value)/LN10))<0.001", "value": 1}, "value": 0}}},
  "y2": {"field": "b1"}}},
{"data": {"name": "wc"}, "transform": [{"filter": {"field": "s", "oneOf": ["1.00 ≤ t ≤ 1.50 Gyr","1.50 ≤ t ≤ 2.00 Gyr","2.00 ≤ t ≤ 2.50 Gyr"]}}],
 "mark": {"type": "area", "opacity": 0.3, "clip": true},
 "encoding": {"x": {"field": "r", "type": "quantitative", "title": "WeakCool", "axis": {"orient": "top", "labels": false, "ticks": false, "domain": false, "grid": false, "titleFont": "DejaVu Sans Mono", "titleFontSize": 20, "titleFontWeight": "normal", "titleColor": "black", "titlePadding": 19, "titleBaseline": "alphabetic"}},
  "y": {"field": "lo", "type": "quantitative", "title": null}, "y2": {"field": "hi"},
  "fill": {"field": "s", "type": "nominal", "legend": null}}},
{"data": {"name": "wc"}, "transform": [{"filter": {"field": "s", "oneOf": ["t = 0.00 Gyr","t = 0.50 Gyr","t = 0.54 Gyr"]}}],
 "mark": {"type": "line", "strokeWidth": 2, "strokeDash": [10, 4.5], "clip": true},
 "encoding": {"x": {"field": "r", "type": "quantitative", "axis": null}, "y": {"field": "B", "type": "quantitative", "title": null},
  "color": {"field": "s", "type": "nominal", "legend": null}}},
{"data": {"name": "wc"}, "transform": [{"filter": {"field": "s", "oneOf": ["1.00 ≤ t ≤ 1.50 Gyr","1.50 ≤ t ≤ 2.00 Gyr","2.00 ≤ t ≤ 2.50 Gyr"]}}],
 "mark": {"type": "line", "strokeWidth": 4, "clip": true},
 "encoding": {"x": {"field": "r", "type": "quantitative", "axis": null}, "y": {"field": "B", "type": "quantitative", "title": null},
  "color": {"field": "s", "type": "nominal", "legend": null}}}
]
},
{
"width": 278, "height": 391,
"resolve": {"axis": {"x": "independent"}},
"layer": [
{"data": {"name": "shade"}, "mark": {"type": "rect", "color": "black", "opacity": 0.055},
 "encoding": {
  "x": {"field": "r0", "type": "quantitative", "title": "r [kpc]", "scale": {"type": "log", "domain": [0.4, 500], "nice": false},
   "axis": {"orient": "bottom", "values": [0.4,0.5,0.6,0.7,0.8,0.9,1,2,3,4,5,6,7,8,9,10,20,30,40,50,60,70,80,90,100,200,300,400,500],
    "labelExpr": "abs(log(datum.value)/LN10-round(log(datum.value)/LN10))<0.001 ? '10'+(datum.value<0.9?'⁻':'')+substring('⁰¹²³⁴⁵⁶⁷⁸⁹',abs(round(log(datum.value)/LN10)),abs(round(log(datum.value)/LN10))+1) : ''",
    "labelFontSize": 25, "labelFont": "DejaVu Sans", "labelColor": "black", "labelOverlap": false, "labelFlush": false, "labelPadding": 8,
    "tickColor": "black", "tickSize": {"condition": {"test": "abs(log(datum.value)/LN10-round(log(datum.value)/LN10))<0.001", "value": 8}, "value": 4.5},
    "tickWidth": {"condition": {"test": "abs(log(datum.value)/LN10-round(log(datum.value)/LN10))<0.001", "value": 1.6}, "value": 1.2},
    "domain": false, "grid": true, "gridColor": "#b0b0b0", "gridWidth": 1.6,
    "gridOpacity": {"condition": {"test": "abs(log(datum.value)/LN10-round(log(datum.value)/LN10))<0.001", "value": 1}, "value": 0},
    "titleFontSize": 26, "titleFontWeight": "normal", "titleColor": "black", "titleFont": "DejaVu Sans", "titlePadding": 16}},
  "x2": {"field": "r1"},
  "y": {"field": "b0", "type": "quantitative", "title": null, "scale": {"type": "log", "domain": [2e-8, 1e-4], "nice": false},
   "axis": {"values": [2e-8,3e-8,4e-8,5e-8,6e-8,7e-8,8e-8,9e-8,1e-7,2e-7,3e-7,4e-7,5e-7,6e-7,7e-7,8e-7,9e-7,1e-6,2e-6,3e-6,4e-6,5e-6,6e-6,7e-6,8e-6,9e-6,1e-5,2e-5,3e-5,4e-5,5e-5,6e-5,7e-5,8e-5,9e-5,1e-4],
    "labels": false,
    "tickColor": "black", "tickSize": {"condition": {"test": "abs(log(datum.value)/LN10-round(log(datum.value)/LN10))<0.001", "value": 8}, "value": 4.5},
    "tickWidth": {"condition": {"test": "abs(log(datum.value)/LN10-round(log(datum.value)/LN10))<0.001", "value": 1.6}, "value": 1.2},
    "domain": false, "grid": true, "gridColor": "#b0b0b0", "gridWidth": 1.6,
    "gridOpacity": {"condition": {"test": "abs(log(datum.value)/LN10-round(log(datum.value)/LN10))<0.001", "value": 1}, "value": 0}}},
  "y2": {"field": "b1"}}},
{"data": {"name": "wm"}, "transform": [{"filter": {"field": "s", "oneOf": ["1.00 ≤ t ≤ 1.50 Gyr","1.50 ≤ t ≤ 2.00 Gyr","2.00 ≤ t ≤ 2.50 Gyr"]}}],
 "mark": {"type": "area", "opacity": 0.3, "clip": true},
 "encoding": {"x": {"field": "r", "type": "quantitative", "title": "WeakMag", "axis": {"orient": "top", "labels": false, "ticks": false, "domain": false, "grid": false, "titleFont": "DejaVu Sans Mono", "titleFontSize": 20, "titleFontWeight": "normal", "titleColor": "black", "titlePadding": 19, "titleBaseline": "alphabetic"}},
  "y": {"field": "lo", "type": "quantitative", "title": null}, "y2": {"field": "hi"},
  "fill": {"field": "s", "type": "nominal", "legend": null}}},
{"data": {"name": "wm"},
 "mark": {"type": "line", "clip": true},
 "encoding": {"x": {"field": "r", "type": "quantitative", "axis": null}, "y": {"field": "B", "type": "quantitative", "title": null},
  "color": {"field": "s", "type": "nominal",
   "legend": {"orient": "none", "legendX": 233, "legendY": 10, "title": null, "labelFont": "DejaVu Sans", "labelFontSize": 21, "labelColor": "black", "labelLimit": 500, "labelExpr": "replace(datum.label, regexp(' ≤ ', 'g'), ' \u2009≤\u2009 ')", "symbolType": "M-0.75,0H2.25", "symbolSize": 900, "fillColor": "rgba(255,255,255,0.8)", "strokeColor": "#cccccc", "cornerRadius": 5, "padding": 4, "rowPadding": 4.8, "labelOffset": 35}},
  "strokeDash": {"field": "s", "type": "nominal",
   "scale": {"domain": ["t = 0.00 Gyr","t = 0.50 Gyr","t = 0.54 Gyr","1.00 ≤ t ≤ 1.50 Gyr","1.50 ≤ t ≤ 2.00 Gyr","2.00 ≤ t ≤ 2.50 Gyr"], "range": [[12,4,2,4],[12,4,2,4],[12,4,2,4],[1,0],[1,0],[1,0]]},
   "legend": {"orient": "none", "legendX": 233, "legendY": 10, "title": null, "labelFont": "DejaVu Sans", "labelFontSize": 21, "labelColor": "black", "labelLimit": 500, "labelExpr": "replace(datum.label, regexp(' ≤ ', 'g'), ' \u2009≤\u2009 ')", "symbolType": "M-0.75,0H2.25", "symbolSize": 900, "fillColor": "rgba(255,255,255,0.8)", "strokeColor": "#cccccc", "cornerRadius": 5, "padding": 4, "rowPadding": 4.8, "labelOffset": 35}},
  "strokeWidth": {"field": "s", "type": "nominal",
   "scale": {"type": "ordinal", "domain": ["t = 0.00 Gyr","t = 0.50 Gyr","t = 0.54 Gyr","1.00 ≤ t ≤ 1.50 Gyr","1.50 ≤ t ≤ 2.00 Gyr","2.00 ≤ t ≤ 2.50 Gyr"], "range": [2,2,2,4,4,4]},
   "legend": {"orient": "none", "legendX": 233, "legendY": 10, "title": null, "labelFont": "DejaVu Sans", "labelFontSize": 21, "labelColor": "black", "labelLimit": 500, "labelExpr": "replace(datum.label, regexp(' ≤ ', 'g'), ' \u2009≤\u2009 ')", "symbolType": "M-0.75,0H2.25", "symbolSize": 900, "fillColor": "rgba(255,255,255,0.8)", "strokeColor": "#cccccc", "cornerRadius": 5, "padding": 4, "rowPadding": 4.8, "labelOffset": 35}}}}
]
}
]
}
